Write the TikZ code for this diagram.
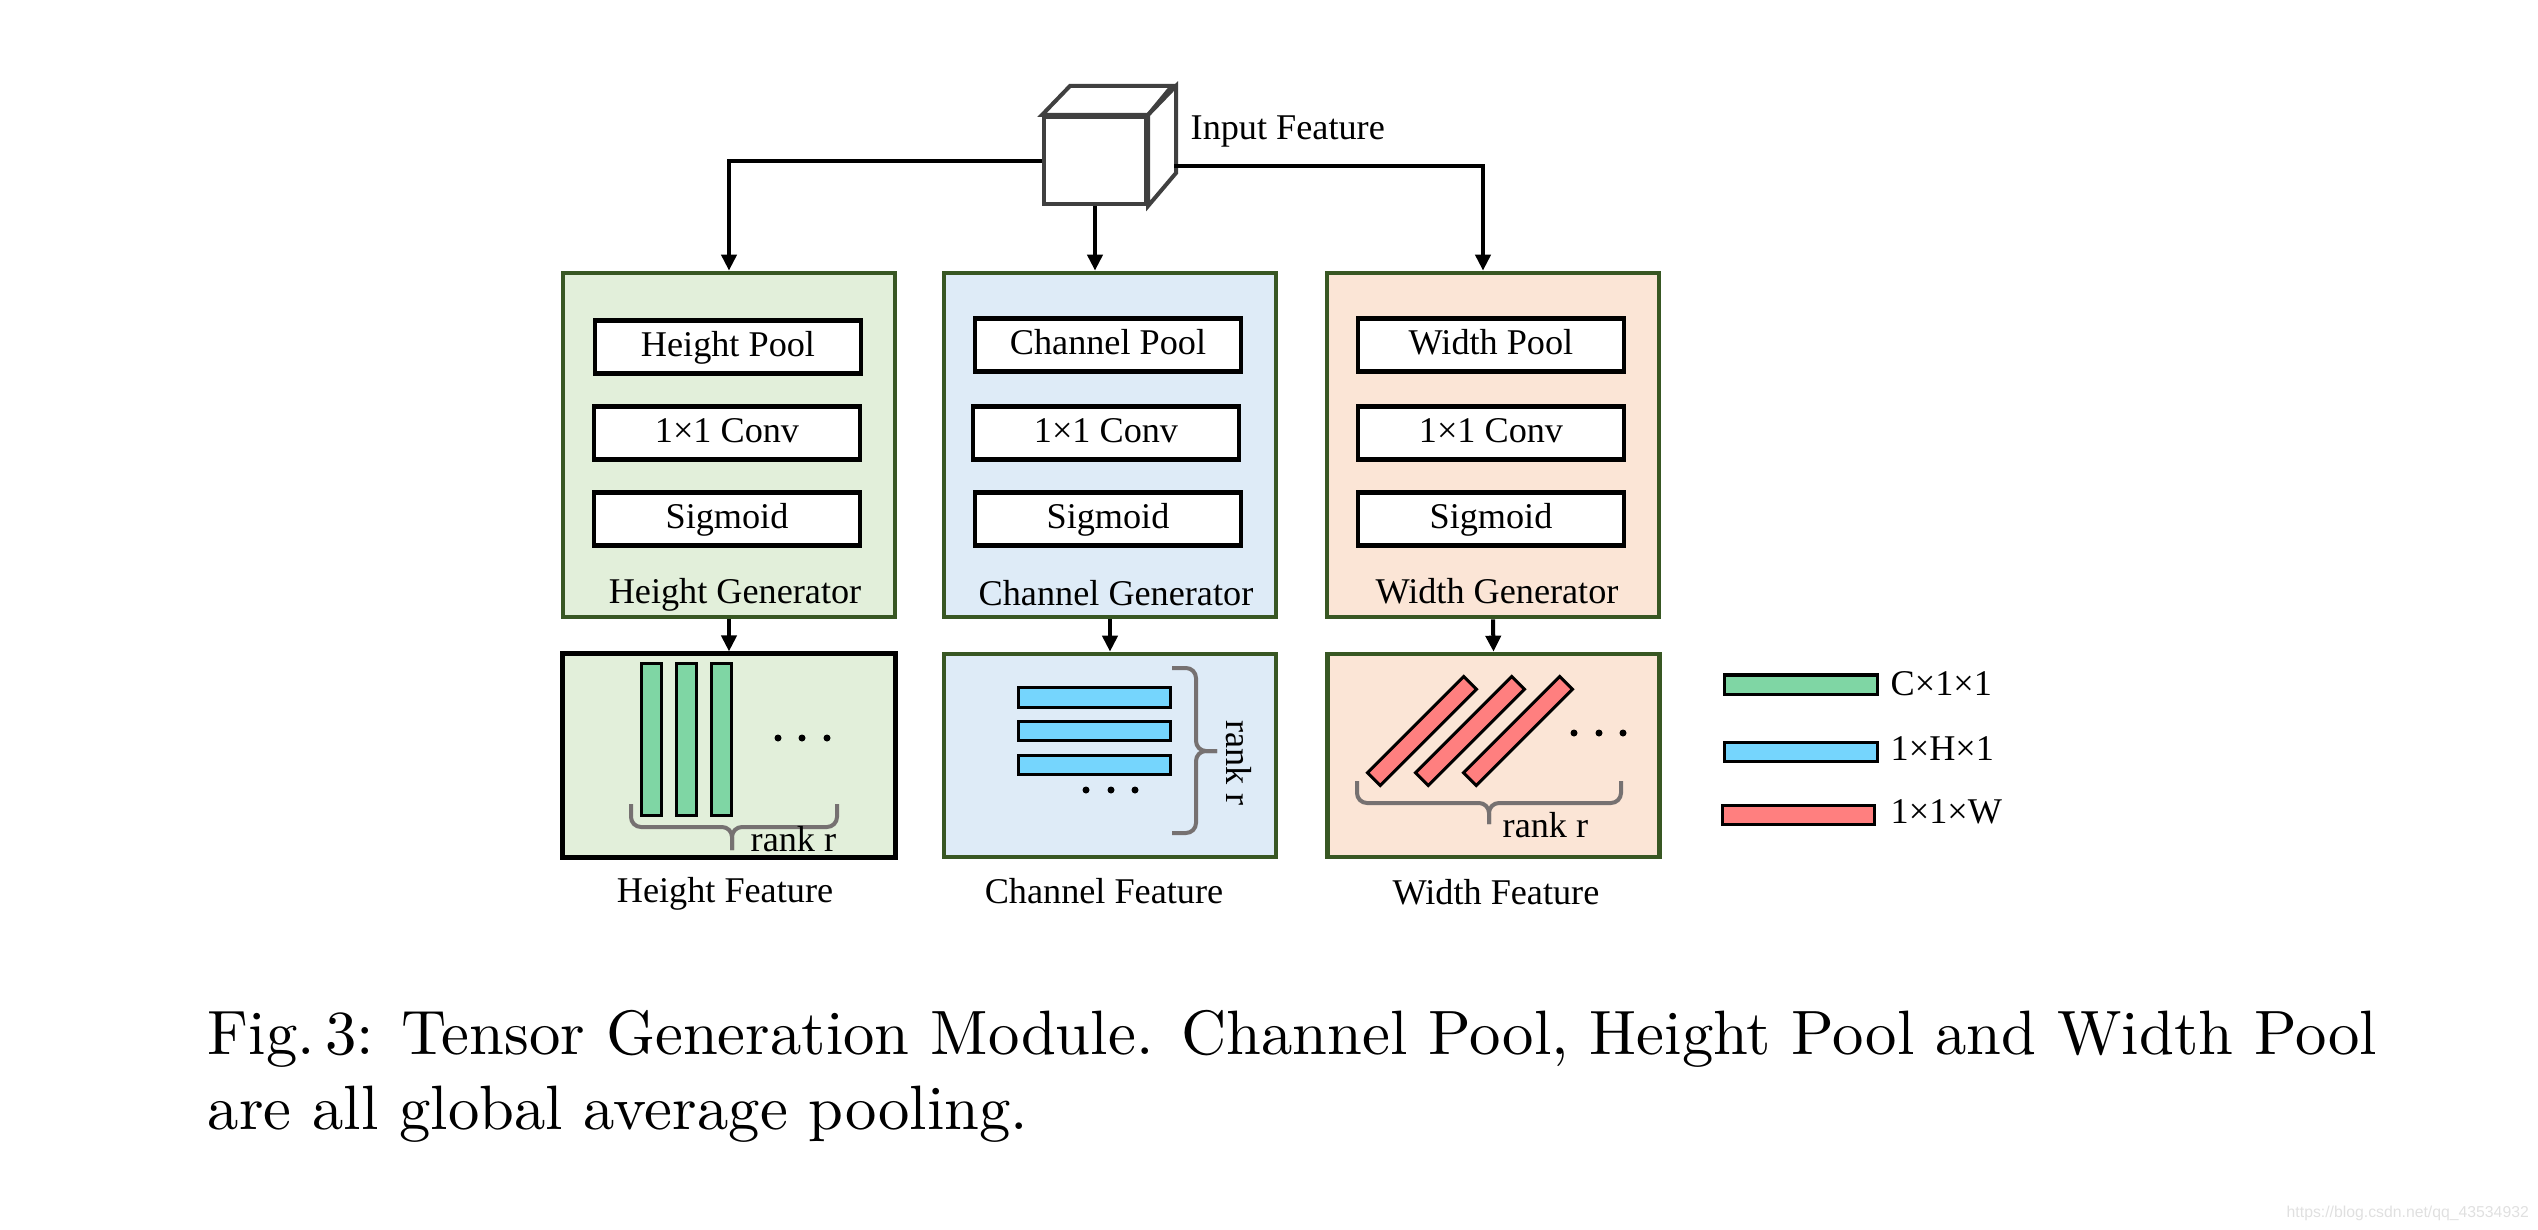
\documentclass[tikz,border=0pt]{standalone}
\usepackage{fontspec}
\usepackage{graphicx}
\newfontfamily\tnr{Liberation Serif}
\newfontfamily\arialf{Liberation Sans}
\usetikzlibrary{arrows.meta,calc}
\definecolor{dkgreen}{HTML}{385723}
\definecolor{cubegray}{HTML}{404040}
\definecolor{bggreen}{HTML}{E2EFDA}
\definecolor{bgblue}{HTML}{DEEBF7}
\definecolor{bgpeach}{HTML}{FBE5D6}
\definecolor{mint}{HTML}{7FD6A4}
\definecolor{skyb}{HTML}{75D5FD}
\definecolor{salmon}{HTML}{FF7F7F}
\definecolor{bracegray}{HTML}{767171}
\begin{document}
\begin{tikzpicture}[x=0.01cm,y=-0.01cm,
  arrsty/.style={line width=0.04cm,-{Triangle[length=0.16cm,width=0.15cm]}},
  genbox/.style={draw=dkgreen,line width=0.045cm,minimum width=3.32cm,minimum height=3.44cm,inner sep=0},
  featbox/.style={draw=dkgreen,line width=0.045cm,minimum width=3.32cm,minimum height=2.03cm,inner sep=0},
  opbox/.style={draw=black,line width=0.045cm,fill=white,minimum width=2.66cm,minimum height=0.53cm,inner sep=0,
    font=\tnr\fontsize{10.3pt}{12pt}\selectfont,text height=0.25cm,text depth=0.07cm},
  lbl/.style={font=\tnr\fontsize{10.3pt}{12pt}\selectfont,inner sep=0},
  cubesty/.style={draw=cubegray,line width=0.04cm,fill=white},
  barsty/.style={draw=black,line width=0.03cm,inner sep=0},
  bracesty/.style={draw=bracegray,line width=0.04cm,rounded corners=0.1cm},
  dotsty/.style={fill=black,circle,inner sep=0,minimum size=0.07cm},
  captxt/.style={font=\fontsize{10pt}{12pt}\selectfont,inner sep=0,anchor=base west}
]
\useasboundingbox (0,0) rectangle (2538,1230);

% input cube
\node[cubesty,minimum width=1.02cm,minimum height=0.87cm,inner sep=0] (cube) at (1095,160.5) {};
\draw[cubesty] (cube.north west) -- ++(28,-29) -- ++(102,0) -- (cube.north east) -- cycle;
\draw[cubesty] (cube.north east) -- ++(28,-29) -- ++(0,87) -- (cube.south east) -- cycle;
\coordinate (cubeR) at (1174,166);
\node[lbl,anchor=base west] (inlbl) at (1190,139) {Input Feature};

% generators
\node[genbox,fill=bggreen] (hgen) at (729,445) {};
\node[genbox,fill=bgblue] (cgen) at (1110,445) {};
\node[genbox,fill=bgpeach] (wgen) at (1493,445) {};

\node[opbox] (hpool) at (728,347) {Height Pool};
\node[opbox] (hconv) at (727,433) {1×1 Conv};
\node[opbox] (hsig) at (727,519) {Sigmoid};
\node[opbox] (cpool) at (1108,345) {Channel Pool};
\node[opbox] (cconv) at (1106,433) {1×1 Conv};
\node[opbox] (csig) at (1108,519) {Sigmoid};
\node[opbox] (wpool) at (1491,345) {Width Pool};
\node[opbox] (wconv) at (1491,433) {1×1 Conv};
\node[opbox] (wsig) at (1491,519) {Sigmoid};

\node[lbl,anchor=base] (hgl) at (735,603) {Height Generator};
\node[lbl,anchor=base] (cgl) at (1116,605) {Channel Generator};
\node[lbl,anchor=base] (wgl) at (1497,603) {Width Generator};

% features
\node[featbox,draw=black,line width=0.05cm,fill=bggreen] (hfeat) at (729,755.5) {};
\node[featbox,fill=bgblue] (cfeat) at (1110,755.5) {};
\node[featbox,fill=bgpeach] (wfeat) at (1493.5,755.5) {};

\node[lbl,anchor=base] (hfl) at (725,902) {Height Feature};
\node[lbl,anchor=base] (cfl) at (1104,903) {Channel Feature};
\node[lbl,anchor=base] (wfl) at (1496,904) {Width Feature};

% connectors
\draw[arrsty] (cube.west) -| (hgen.north);
\draw[arrsty] (cube.south) -- (cube.south |- cgen.north);
\draw[arrsty] (cubeR) -| ($(wgen.north)+(-10,0)$);
\draw[arrsty] (hgen.south) -- (hfeat.north);
\draw[arrsty] (cgen.south) -- (cfeat.north);
\draw[arrsty] (wgen.south) -- (wfeat.north);

% height feature content
\foreach \i/\xx in {1/651.5,2/686.5,3/721.5}
  \node[barsty,fill=mint,minimum width=0.20cm,minimum height=1.51cm] (hb\i) at (\xx,739.5) {};
\foreach \i/\xx in {1/778,2/802,3/827}
  \node[dotsty] (hd\i) at (\xx,738) {};
\draw[bracesty] (631,804) -- (631,827) -- (732,827) -- (732,850);
\draw[bracesty] (837,804) -- (837,827) -- (732,827) -- (732,850);
\node[lbl,anchor=base west] (hrank) at (750,851) {rank r};

% channel feature content
\foreach \i/\yy in {1/697.5,2/731,3/765}
  \node[barsty,fill=skyb,minimum width=1.51cm,minimum height=0.195cm] (cb\i) at (1094.5,\yy) {};
\foreach \i/\xx in {1/1086,2/1111,3/1135}
  \node[dotsty] (cd\i) at (\xx,790) {};
\draw[bracesty] (1172,668) -- (1196,668) -- (1196,751) -- (1217,751);
\draw[bracesty] (1172,833) -- (1196,833) -- (1196,751) -- (1217,751);
\node[lbl,rotate=-90] (crank) at (1239,763) {rank r};

% width feature content
\foreach \i/\xx in {1/1422,2/1470,3/1518}
  \node[barsty,fill=salmon,minimum width=1.36cm,minimum height=0.18cm,rotate=45] (wb\i) at (\xx,731) {};
\foreach \i/\xx in {1/1574,2/1599,3/1623}
  \node[dotsty] (wd\i) at (\xx,733) {};
\draw[bracesty] (1357,781) -- (1357,803) -- (1489,803) -- (1489,824);
\draw[bracesty] (1621,781) -- (1621,803) -- (1489,803) -- (1489,824);
\node[lbl,anchor=base west] (wrank) at (1502,837) {rank r};

% legend
\node[barsty,fill=mint,minimum width=1.52cm,minimum height=0.19cm] (lg1) at (1801,684.5) {};
\node[barsty,fill=skyb,minimum width=1.52cm,minimum height=0.19cm] (lg2) at (1801,752) {};
\node[barsty,fill=salmon,minimum width=1.51cm,minimum height=0.19cm] (lg3) at (1798.5,814.5) {};
\node[lbl,anchor=base west] (lt1) at (1890,695) {C×1×1};
\node[lbl,anchor=base west] (lt2) at (1890,760) {1×H×1};
\node[lbl,anchor=base west] (lt3) at (1890,823) {1×1×W};

% caption
\node[captxt] (cap) at (207,1054) {\resizebox{21.68cm}{!}{\begin{tabular}[t]{@{}l@{}}Fig.\,3: Tensor Generation Module. Channel Pool, Height Pool and Width Pool\\are all global average pooling.\end{tabular}}};

% watermark
\node[anchor=base west,inner sep=0,font=\arialf\fontsize{5pt}{6pt}\selectfont,text=black!12] (wm) at (2286,1217) {\resizebox{2.42cm}{!}{https://blog.csdn.net/qq\_43534932}};
\end{tikzpicture}
\end{document}
